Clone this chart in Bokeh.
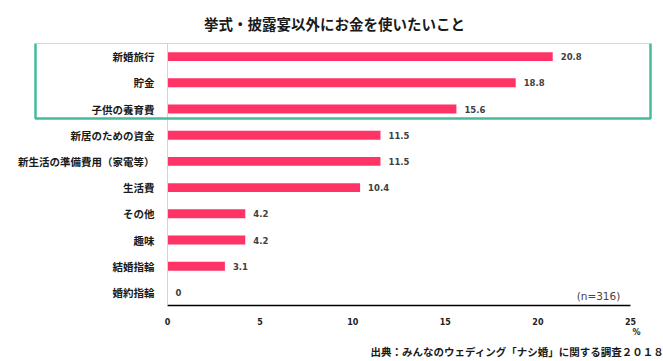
from bokeh.plotting import figure
from bokeh.models import ColumnDataSource, FactorRange, Range1d, BoxAnnotation, Title, FixedTicker, Span
from bokeh.core.properties import value
from bokeh.embed import file_html
from bokeh.resources import INLINE

categories = ["新婚旅行", "貯金", "子供の養育費", "新居のための資金", "新生活の準備費用（家電等）",
              "生活費", "その他", "趣味", "結婚指輪", "婚約指輪"]
values = [20.8, 18.8, 15.6, 11.5, 11.5, 10.4, 4.2, 4.2, 3.1, 0]
value_labels = ["20.8", "18.8", "15.6", "11.5", "11.5", "10.4", "4.2", "4.2", "3.1", "0"]
x_ticks = [0, 5, 10, 15, 20, 25]
unit_text = "%"
title_text = "挙式・披露宴以外にお金を使いたいこと"
source_text = "出典：みんなのウェディング「ナシ婚」に関する調査２０１８"
n_text = "(n=316)"

JP = "Noto Sans CJK JP"
LAT = "DejaVu Sans"

W, H = 663, 361
# layout (page pixels): value 0 at x=167, value 25 at x=630
PX_PER_UNIT = (630 - 167) / 25.0
FRAME_L, FRAME_R = 12, 656
FRAME_T, FRAME_B = 40, 305
x_start = -(167 - FRAME_L) / PX_PER_UNIT
x_end = 25 + (FRAME_R - 630) / PX_PER_UNIT

src = ColumnDataSource(dict(cat=categories, val=values, lab=value_labels, zero=[0] * len(values)))

p = figure(width=W, height=H, output_backend="svg", toolbar_location=None,
           y_range=FactorRange(factors=categories[::-1], range_padding=0),
           x_range=Range1d(x_start, x_end),
           min_border_left=FRAME_L, min_border_right=W - FRAME_R,
           min_border_top=FRAME_T, min_border_bottom=H - FRAME_B)
p.outline_line_color = None
p.grid.visible = False

p.title.text = title_text
p.title.align = "center"
p.title.offset = -5
p.title.standoff = 20
p.title.text_font = JP
p.title.text_font_size = "14.5px"
p.title.text_font_style = "bold"
p.title.text_color = "#1a1a1a"

p.add_layout(Span(location=0, dimension="height", line_color="#d4d4d4", line_width=1))

p.hbar(y="cat", right="val", left=0, height=0.34, source=src, color="#fe3366", line_color=None)
p.text(x="val", y="cat", text="lab", source=src, x_offset=8, text_baseline="middle",
       text_font=value(LAT), text_font_size="8.5px", text_font_style="bold", text_color="#404040")
p.text(x="zero", y="cat", text="cat", source=src, x_offset=-13, text_align="right", text_baseline="middle",
       text_font=value(JP), text_font_size="10.5px", text_font_style="bold", text_color="#1a1a1a")
p.text(x=[24.45], y=[categories[-1]], text=[n_text], y_offset=4, text_align="right", text_baseline="middle",
       text_font=value(LAT), text_font_size="10.5px", text_color="#444444")

xa = p.xaxis[0]
xa.bounds = (0, 25)
xa.ticker = FixedTicker(ticks=x_ticks)
xa.major_label_overrides = {25: "25\n\u2003\u2002" + unit_text}
xa.axis_line_color = "#000000"
xa.axis_line_width = 1.5
xa.major_tick_line_color = None
xa.minor_tick_line_color = None
xa.major_label_standoff = 6
xa.major_label_text_font = LAT
xa.major_label_text_font_size = "8px"
xa.major_label_text_font_style = "bold"
xa.major_label_text_color = "#222222"

p.yaxis.visible = False

p.add_layout(Title(text=source_text, align="right", offset=-8, standoff=3, text_font=JP,
                   text_font_size="10.5px", text_font_style="bold", text_color="#1a1a1a"), "below")

box = BoxAnnotation(left=35 - FRAME_L, right=650 - FRAME_L,
                    top=FRAME_B - 42, bottom=FRAME_B - 118,
                    left_units="screen", right_units="screen", top_units="screen", bottom_units="screen",
                    fill_color=None, fill_alpha=0, line_color="#45bb9c", line_alpha=1.0, line_width=2.5)
p.add_layout(box)

open("out.html", "w").write(file_html(p, INLINE))
